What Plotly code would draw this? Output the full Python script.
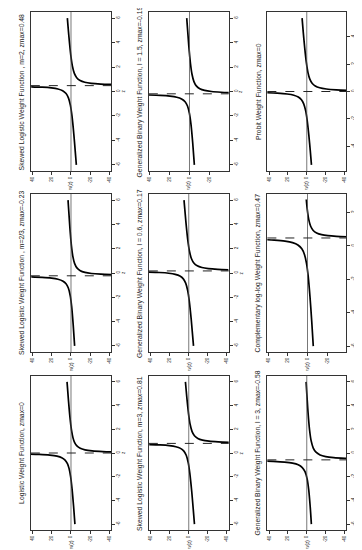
import plotly.graph_objects as go

W, H = 362, 550

# ---------------- data ----------------
# Logistic, zmax=0
LOGIT_Z_LO = [-6, -4.5, -3, -2, -1.3, -0.9, -0.6, -0.4, -0.27, -0.18, -0.12, -0.09]
LOGIT_W_LO = [-4.13, -2.71, -1.07, 0.4, 2.04, 3.72, 6.19, 9.68, 14.6, 22.1, 33.2, 44.4]
LOGIT_Z_HI = [0.09, 0.12, 0.18, 0.27, 0.4, 0.6, 0.9, 1.3, 2, 3, 4.5, 6]
LOGIT_W_HI = [-44.4, -33.2, -22.1, -14.6, -9.68, -6.19, -3.72, -2.04, -0.4, 1.07, 2.71, 4.13]

# Skewed logistic m=2/3, zmax=-0.23
SKL23_Z_LO = [-6, -4.23, -2.73, -1.83, -1.23, -0.88, -0.65, -0.51, -0.42, -0.36, -0.325]
SKL23_W_LO = [-3.8, -2.27, -0.65, 0.87, 2.78, 5.17, 8.7, 13.57, 20.39, 30.15, 41.5]
SKL23_Z_HI = [-0.135, -0.1, -0.04, 0.05, 0.19, 0.42, 0.77, 1.37, 2.27, 3.77, 6]
SKL23_W_HI = [-42.6, -31.2, -21.45, -14.63, -9.76, -6.23, -3.84, -1.93, -0.41, 1.21, 3.1]

# Skewed logistic m=2, zmax=0.48
SKL2_Z_LO = [-6, -3.52, -2.02, -1.12, -0.52, -0.17, 0.06, 0.2, 0.29, 0.35, 0.385]
SKL2_W_LO = [-5.6, -3.0, -1.06, 0.65, 2.68, 5.15, 8.72, 13.62, 20.46, 30.23, 41.6]
SKL2_Z_HI = [0.575, 0.61, 0.67, 0.76, 0.9, 1.13, 1.48, 2.08, 2.98, 4.48, 6]
SKL2_W_HI = [-42.4, -31.07, -21.3, -14.46, -9.56, -5.99, -3.52, -1.49, 0.22, 2.16, 3.8]

# Skewed logistic m=3, zmax=0.81
SKL3_Z_LO = [-6, -3.19, -1.69, -0.79, -0.19, 0.16, 0.39, 0.53, 0.62, 0.68, 0.715]
SKL3_W_LO = [-6.0, -3.05, -1.09, 0.62, 2.66, 5.13, 8.71, 13.61, 20.45, 30.22, 41.58]
SKL3_Z_HI = [0.905, 0.94, 1.0, 1.09, 1.23, 1.46, 1.81, 2.41, 3.31, 4.81, 6]
SKL3_W_HI = [-42.44, -31.08, -21.31, -14.47, -9.57, -5.99, -3.52, -1.48, 0.23, 2.19, 3.5]

# Generalized binary l=0.6, zmax=0.17
GB06_Z_LO = [-6, -3.83, -2.33, -1.43, -0.83, -0.48, -0.25, -0.11, -0.02, 0.04, 0.075]
GB06_W_LO = [-5.0, -2.6, -0.58, 1.17, 3.24, 5.72, 9.3, 14.21, 21.05, 30.83, 42.17]
GB06_Z_HI = [0.265, 0.3, 0.36, 0.45, 0.59, 0.82, 1.17, 1.77, 2.67, 4.17, 6]
GB06_W_HI = [-41.83, -30.47, -20.69, -13.85, -8.94, -5.36, -2.88, -0.81, 0.94, 2.96, 5.0]

# Generalized binary l=1.5, zmax=-0.19
GB15_Z_LO = [-6, -4.19, -2.69, -1.79, -1.19, -0.84, -0.61, -0.47, -0.38, -0.32, -0.285]
GB15_W_LO = [-4.9, -3.23, -1.5, 0.08, 2.03, 4.44, 7.98, 12.86, 19.69, 29.45, 40.81]
GB15_Z_HI = [-0.095, -0.06, 0.0, 0.09, 0.23, 0.46, 0.81, 1.41, 2.31, 3.81, 6]
GB15_W_HI = [-43.25, -31.89, -22.13, -15.3, -10.42, -6.88, -4.47, -2.52, -0.94, 0.79, 2.8]

# Generalized binary l=3, zmax=-0.58
GB3_Z_LO = [-6, -4.58, -3.08, -2.18, -1.58, -1.23, -1.0, -0.86, -0.77, -0.71, -0.69]
GB3_W_LO = [-4.9, -3.71, -2.05, -0.37, 1.86, 4.77, 9.12, 15.16, 23.67, 35.85, 42.85]
GB3_Z_HI = [-0.47, -0.45, -0.39, -0.3, -0.16, 0.07, 0.42, 1.02, 1.92, 3.42, 6]
GB3_W_HI = [-47.91, -40.91, -28.73, -20.22, -14.18, -9.83, -6.92, -4.69, -3.01, -1.35, 0.7]

# Complementary log-log, zmax=0.47
CLL_Z_LO = [-6, -4.53, -3.03, -1.83, -1.03, -0.53, -0.18, 0.05, 0.19, 0.28, 0.34, 0.37]
CLL_W_LO = [-5.9, -4.32, -2.52, -0.72, 1.07, 3.04, 5.79, 9.8, 15.29, 22.98, 33.98, 44.39]
CLL_Z_HI = [0.54, 0.57, 0.61, 0.67, 0.77, 0.92, 1.17, 1.57, 2.17, 2.77]
CLL_W_HI = [-42.39, -29.51, -20.9, -14.41, -9.32, -5.85, -3.23, -1.3, 0.23, 1.25]

# Probit, zmax=0
PROBIT_Z_LO = [-5.35, -4.3, -3.2, -2.1, -1.4, -0.9, -0.6, -0.4, -0.27, -0.18, -0.12, -0.085]
PROBIT_W_LO = [-5.0, -3.71, -2.22, -0.43, 1.22, 3.26, 5.69, 9.07, 13.78, 20.92, 31.54, 44.6]
PROBIT_Z_HI = [0.085, 0.12, 0.18, 0.27, 0.4, 0.6, 0.9, 1.4, 2.1, 3.2, 4.3, 5.35]
PROBIT_W_HI = [-44.6, -31.54, -20.92, -13.78, -9.07, -5.69, -3.26, -1.22, 0.43, 2.22, 3.71, 5.0]

TITLES = [
    "Logistic Weight Function, zmax=0",
    "Skewed Logistic Weight Function , m=2/3, zmax=-0.23",
    "Skewed Logistic Weight Function , m=2, zmax=0.48",
    "Skewed Logistic Weight Function, m=3, zmax=0.81",
    "Generalized Binary Weight Function, l = 0.6, zmax=0.17",
    "Generalized Binary Weight Function, l = 1.5, zmax=-0.19",
    "Generalized Binary Weight Function, l = 3, zmax=-0.58",
    "Complementary log-log Weight Function, zmax=0.47",
    "Probit Weight Function, zmax=0",
]
ZMAX = [0, -0.23, 0.48, 0.81, 0.17, -0.19, -0.58, 0.47, 0]
Z_TICKS_FULL = [-6, -4, -2, 0, 2, 4, 6]
Z_TICKS_PROBIT = [-4, -2, 0, 2, 4]
W_TICKS = [-40, -20, 0, 20, 40]

CURVES = [
    (LOGIT_Z_LO, LOGIT_W_LO, LOGIT_Z_HI, LOGIT_W_HI),
    (SKL23_Z_LO, SKL23_W_LO, SKL23_Z_HI, SKL23_W_HI),
    (SKL2_Z_LO, SKL2_W_LO, SKL2_Z_HI, SKL2_W_HI),
    (SKL3_Z_LO, SKL3_W_LO, SKL3_Z_HI, SKL3_W_HI),
    (GB06_Z_LO, GB06_W_LO, GB06_Z_HI, GB06_W_HI),
    (GB15_Z_LO, GB15_W_LO, GB15_Z_HI, GB15_W_HI),
    (GB3_Z_LO, GB3_W_LO, GB3_Z_HI, GB3_W_HI),
    (CLL_Z_LO, CLL_W_LO, CLL_Z_HI, CLL_W_HI),
    (PROBIT_Z_LO, PROBIT_W_LO, PROBIT_Z_HI, PROBIT_W_HI),
]

# ---------------- layout (page is the original figure turned a quarter turn) ----------------
COLS = [(21, 102), (140, 220.5), (259.5, 339)]
ROWS = [(4, 163), (186, 344), (368, 522)]
PLACE = [(0, 2), (0, 1), (0, 0), (1, 2), (1, 1), (1, 0), (2, 2), (2, 1), (2, 0)]
Z_RANGES = [(-6.5, 6.5)] * 7 + [(-6.35, 3.1), (-5.8, 5.8)]
Z_TICKS = [Z_TICKS_FULL] * 8 + [Z_TICKS_PROBIT]
W_RANGES = [(42, -42)] * 5 + [(41, -39.5), (42, -42), (41, -39.5), (42, -42)]

FONT = "Liberation Sans, Arial, sans-serif"
fig = go.Figure()
layout = dict(width=W, height=H, margin=dict(l=0, r=0, t=0, b=0),
              paper_bgcolor="white", plot_bgcolor="white", showlegend=False,
              annotations=[], shapes=[])

for i, (title, zm, (zl, wl, zh, wh)) in enumerate(zip(TITLES, ZMAX, CURVES)):
    n = i + 1
    xa = "x" if n == 1 else f"x{n}"
    ya = "y" if n == 1 else f"y{n}"
    c, r = PLACE[i]
    l, rr = COLS[c]
    t, b = ROWS[r]
    for zz, ww in ((zl, wl), (zh, wh)):
        fig.add_trace(go.Scatter(x=ww, y=zz, mode="lines", xaxis=xa, yaxis=ya,
                                 line=dict(color="black", width=1.7, shape="spline", smoothing=0.8),
                                 hoverinfo="skip"))
    axcommon = dict(showgrid=False, zeroline=False, showline=True, mirror=True,
                    linecolor="#333", linewidth=0.8, ticks="outside", ticklen=3,
                    tickwidth=0.6, tickcolor="#333", tickangle=-90,
                    tickfont=dict(size=4.5, family=FONT, color="#222"))
    layout["xaxis" if n == 1 else f"xaxis{n}"] = dict(
        domain=[l / W, rr / W], range=list(W_RANGES[i]), anchor=ya, side="bottom",
        tickvals=W_TICKS, ticktext=[str(v) for v in W_TICKS], **axcommon)
    zt = Z_TICKS[i]
    layout["yaxis" if n == 1 else f"yaxis{n}"] = dict(
        domain=[1 - b / H, 1 - t / H], range=list(Z_RANGES[i]), anchor=xa, side="right",
        tickvals=zt, ticktext=[str(v) for v in zt], **axcommon)
    # reference lines
    layout["shapes"].append(dict(type="line", xref=xa, yref=f"{ya} domain", x0=0, x1=0, y0=0, y1=1,
                                 line=dict(color="#555", width=0.8)))
    layout["shapes"].append(dict(type="line", xref=f"{xa} domain", yref=ya, x0=0, x1=1, y0=zm, y1=zm,
                                 line=dict(color="#222", width=1.0, dash="dash")))
    # titles and axis labels (rotated)
    layout["annotations"].append(dict(text=title, xref="paper", yref="paper",
                                      x=(l - 9) / W, y=1 - (t + b) / 2 / H, textangle=-90,
                                      showarrow=False, xanchor="center", yanchor="middle",
                                      font=dict(size=6.8, family=FONT, color="#222")))
    layout["annotations"].append(dict(text="w(z)", xref="paper", yref="paper",
                                      x=(l + rr) / 2 / W, y=1 - (b + 14) / H, textangle=-90,
                                      showarrow=False, xanchor="center", yanchor="middle",
                                      borderpad=0,
                                      font=dict(size=4.5, family=FONT, color="#222")))
    layout["annotations"].append(dict(text="z", xref="paper", yref="paper",
                                      x=(rr + 12) / W, y=1 - (t + b) / 2 / H, textangle=-90,
                                      showarrow=False, xanchor="center", yanchor="middle",
                                      borderpad=0,
                                      font=dict(size=4.5, family=FONT, color="#222")))

fig.update_layout(**layout)
fig.write_html("out.html")
